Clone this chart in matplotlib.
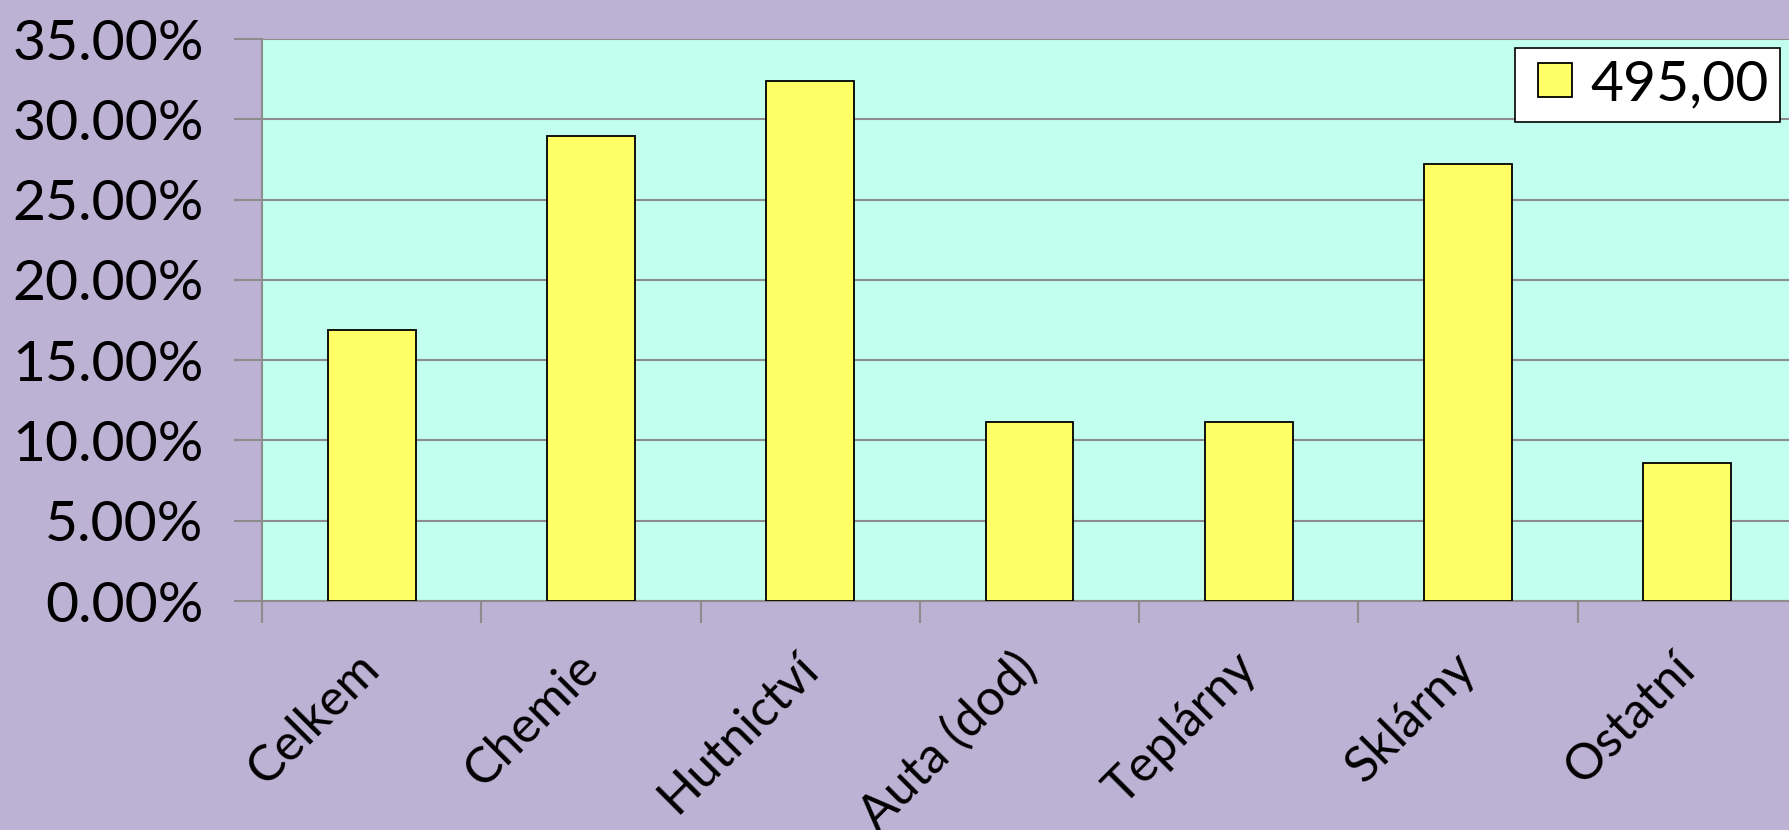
import numpy as np
import matplotlib.pyplot as plt
from matplotlib.lines import Line2D
from matplotlib.ticker import FuncFormatter

# =========================
# DATA
# =========================
categories = ["Celkem", "Chemie", "Hutnictví", "Auta (dod)", "Teplárny", "Sklárny", "Ostatní"]
values = [16.86, 28.95, 32.36, 11.17, 11.15, 27.24, 8.6]
series_name = "495,00"

# =========================
# STYLE
# =========================
BG = "#BBB2D4"
PLOT_BG = "#C2FFEE"
BAR = "#FFFF66"
GRID = "#8C8C8C"
plt.rcParams["font.family"] = ["Lato", "DejaVu Sans"]

fig = plt.figure(figsize=(17.89, 8.30), dpi=100, facecolor=BG)
ax = fig.add_axes([262 / 1789, 1 - 601 / 830, 1535 / 1789, 562 / 830])
ax.set_facecolor(PLOT_BG)

x = np.arange(len(categories))
ax.bar(x, values, width=0.4, color=BAR, edgecolor="black", linewidth=1.3, zorder=3)

ax.set_xlim(-0.5, len(categories) - 0.5)
ax.set_ylim(0, 35)
ax.set_yticks(np.arange(0, 36, 5))
ax.yaxis.set_major_formatter(FuncFormatter(lambda v, p: f"{v:.2f}%"))
ax.grid(axis="y", color=GRID, linewidth=1.5, zorder=0)

# category boundaries as ticks, names on minor ticks
ax.set_xticks(np.arange(-0.5, len(categories), 1))
ax.set_xticklabels([])
ax.set_xticks(x, minor=True)
ax.set_xticklabels(categories, minor=True, rotation=45, ha="right", va="center",
                   rotation_mode="anchor", fontsize=36)
ax.tick_params(axis="x", which="major", length=16, width=1.5, color=GRID, direction="out")
ax.tick_params(axis="x", which="minor", length=0, pad=43)
ax.tick_params(axis="y", length=20, width=1.5, color=GRID, labelsize=41, pad=22)

for side in ["top", "right"]:
    ax.spines[side].set_visible(False)
for side in ["left", "bottom"]:
    ax.spines[side].set_color(GRID)
    ax.spines[side].set_linewidth(1.5)

handle = Line2D([], [], marker="s", linestyle="none", markersize=24,
                markerfacecolor=BAR, markeredgecolor="black", markeredgewidth=1.3)
leg = ax.legend([handle], [series_name], loc="upper right",
                bbox_to_anchor=(1518 / 1535, 1 - 9 / 562),
                fontsize=41, frameon=True, fancybox=False, handlelength=1.0,
                handletextpad=0.12, borderpad=0.2, borderaxespad=0)
leg.get_frame().set_edgecolor("black")
leg.get_frame().set_linewidth(1.2)
leg.get_frame().set_alpha(1)

fig.savefig("out.png", dpi=100, facecolor=BG)
